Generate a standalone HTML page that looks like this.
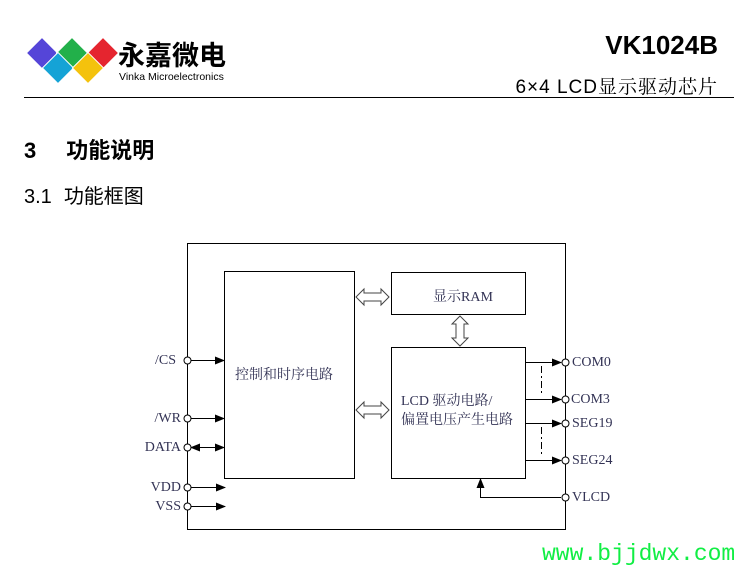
<!DOCTYPE html>
<html><head><meta charset="utf-8"><style>
body{margin:0;width:744px;height:572px;background:#fff;position:relative;overflow:hidden;font-family:"Liberation Sans","Noto Sans CJK SC",sans-serif}
.a{position:absolute;white-space:nowrap}
</style></head><body>
<svg width="744" height="572" style="position:absolute;left:0;top:0">
<g stroke="#fff" stroke-width="1">
<g transform="translate(42,53) rotate(45)"><rect x="-11" y="-11" width="22" height="22" fill="#5545d8"/></g>
<g transform="translate(72,53) rotate(45)"><rect x="-11" y="-11" width="22" height="22" fill="#22b04a"/></g>
<g transform="translate(103,53) rotate(45)"><rect x="-11" y="-11" width="22" height="22" fill="#e5252f"/></g>
<g transform="translate(58,68) rotate(45)"><rect x="-11" y="-11" width="22" height="22" fill="#15a3d6"/></g>
<g transform="translate(88,68) rotate(45)"><rect x="-11" y="-11" width="22" height="22" fill="#f4c20d"/></g>
</g>
<line x1="24" y1="97.5" x2="734" y2="97.5" stroke="#000" stroke-width="1"/>
<defs><marker id="ar" markerWidth="10" markerHeight="8" refX="9" refY="4" orient="auto" markerUnits="userSpaceOnUse"><path d="M0,0L10,4L0,8z" fill="#000"/></marker></defs>
<g fill="none" stroke="#000" stroke-width="1">
<rect x="187.5" y="243.5" width="378" height="286"/>
<rect x="224.5" y="271.5" width="130" height="207"/>
<rect x="391.5" y="272.5" width="134" height="42"/>
<rect x="391.5" y="347.5" width="134" height="131"/>
<line x1="191" y1="360.5" x2="224" y2="360.5" marker-end="url(#ar)"/>
<line x1="191" y1="418.5" x2="224" y2="418.5" marker-end="url(#ar)"/>
<line x1="191" y1="447.5" x2="224" y2="447.5" marker-end="url(#ar)"/>
<line x1="220" y1="447.5" x2="191" y2="447.5" marker-end="url(#ar)"/>
<line x1="191" y1="487.5" x2="225" y2="487.5" marker-end="url(#ar)"/>
<line x1="191" y1="506.5" x2="225" y2="506.5" marker-end="url(#ar)"/>
<line x1="525" y1="362.5" x2="561" y2="362.5" marker-end="url(#ar)"/>
<line x1="525" y1="399.5" x2="561" y2="399.5" marker-end="url(#ar)"/>
<line x1="525" y1="423.5" x2="561" y2="423.5" marker-end="url(#ar)"/>
<line x1="525" y1="460.5" x2="561" y2="460.5" marker-end="url(#ar)"/>
<line x1="541.5" y1="366" x2="541.5" y2="396" stroke-dasharray="7,3,2,3"/>
<line x1="541.5" y1="427" x2="541.5" y2="457" stroke-dasharray="7,3,2,3"/>
<polyline points="561,497.5 480.5,497.5 480.5,479" marker-end="url(#ar)"/>
<path d="M356,297 L364,289 L364,293 L381,293 L381,289 L389,297 L381,305 L381,301 L364,301 L364,305 Z" stroke="#444"/>
<path d="M356,410 L364,402 L364,406 L381,406 L381,402 L389,410 L381,418 L381,414 L364,414 L364,418 Z" stroke="#444"/>
<path d="M460,316 L468,324 L464,324 L464,338 L468,338 L460,346 L452,338 L456,338 L456,324 L452,324 Z" stroke="#444"/>
</g>
<g fill="#fff" stroke="#000" stroke-width="1">
<circle cx="187.5" cy="360.5" r="3.5"/><circle cx="187.5" cy="418.5" r="3.5"/><circle cx="187.5" cy="447.5" r="3.5"/><circle cx="187.5" cy="487.5" r="3.5"/><circle cx="187.5" cy="506.5" r="3.5"/>
<circle cx="565.5" cy="362.5" r="3.5"/><circle cx="565.5" cy="399.5" r="3.5"/><circle cx="565.5" cy="423.5" r="3.5"/><circle cx="565.5" cy="460.5" r="3.5"/><circle cx="565.5" cy="497.5" r="3.5"/>
</g>
</svg>
<div class="a" style="left:118px;top:34px;font-size:27px;font-weight:bold;letter-spacing:0px">永嘉微电</div>
<div class="a" style="left:119px;top:71px;font-size:10.5px">Vinka Microelectronics</div>
<div class="a" style="right:26px;top:30px;font-size:26px;font-weight:bold">VK1024B</div>
<div class="a" style="right:26px;top:72px;font-size:19px;letter-spacing:1px">6×4 LCD<span style="font-family:'Noto Serif CJK SC',serif">显示驱动芯片</span></div>
<div class="a" style="left:24px;top:133px;font-size:22px;font-weight:bold">3<span style="margin-left:30px">功能说明</span></div>
<div class="a" style="left:24px;top:180px;font-size:20px">3.1<span style="margin-left:12px">功能框图</span></div>
<div style="font-family:'Liberation Serif','Noto Serif CJK SC',serif;color:#333355;font-size:14px">
<div class="a" style="right:568px;top:353px">/CS</div>
<div class="a" style="right:563px;top:411px">/WR</div>
<div class="a" style="right:563px;top:440px">DATA</div>
<div class="a" style="right:563px;top:480px">VDD</div>
<div class="a" style="right:563px;top:499px">VSS</div>
<div class="a" style="left:572px;top:355px">COM0</div>
<div class="a" style="left:571px;top:392px">COM3</div>
<div class="a" style="left:572px;top:416px">SEG19</div>
<div class="a" style="left:572px;top:453px">SEG24</div>
<div class="a" style="left:572px;top:490px">VLCD</div>
<div class="a" style="left:235px;top:364px;font-size:14px">控制和时序电路</div>
<div class="a" style="left:433px;top:286px;font-size:14px">显示RAM</div>
<div class="a" style="left:401px;top:390px;font-size:14px">LCD 驱动电路/</div>
<div class="a" style="left:401px;top:409px;font-size:14px">偏置电压产生电路</div>
</div>
<div class="a" style="left:542px;top:541px;font-family:'Liberation Mono',monospace;font-size:23px;color:#11ee44">www.bjjdwx.com</div>
</body></html>
